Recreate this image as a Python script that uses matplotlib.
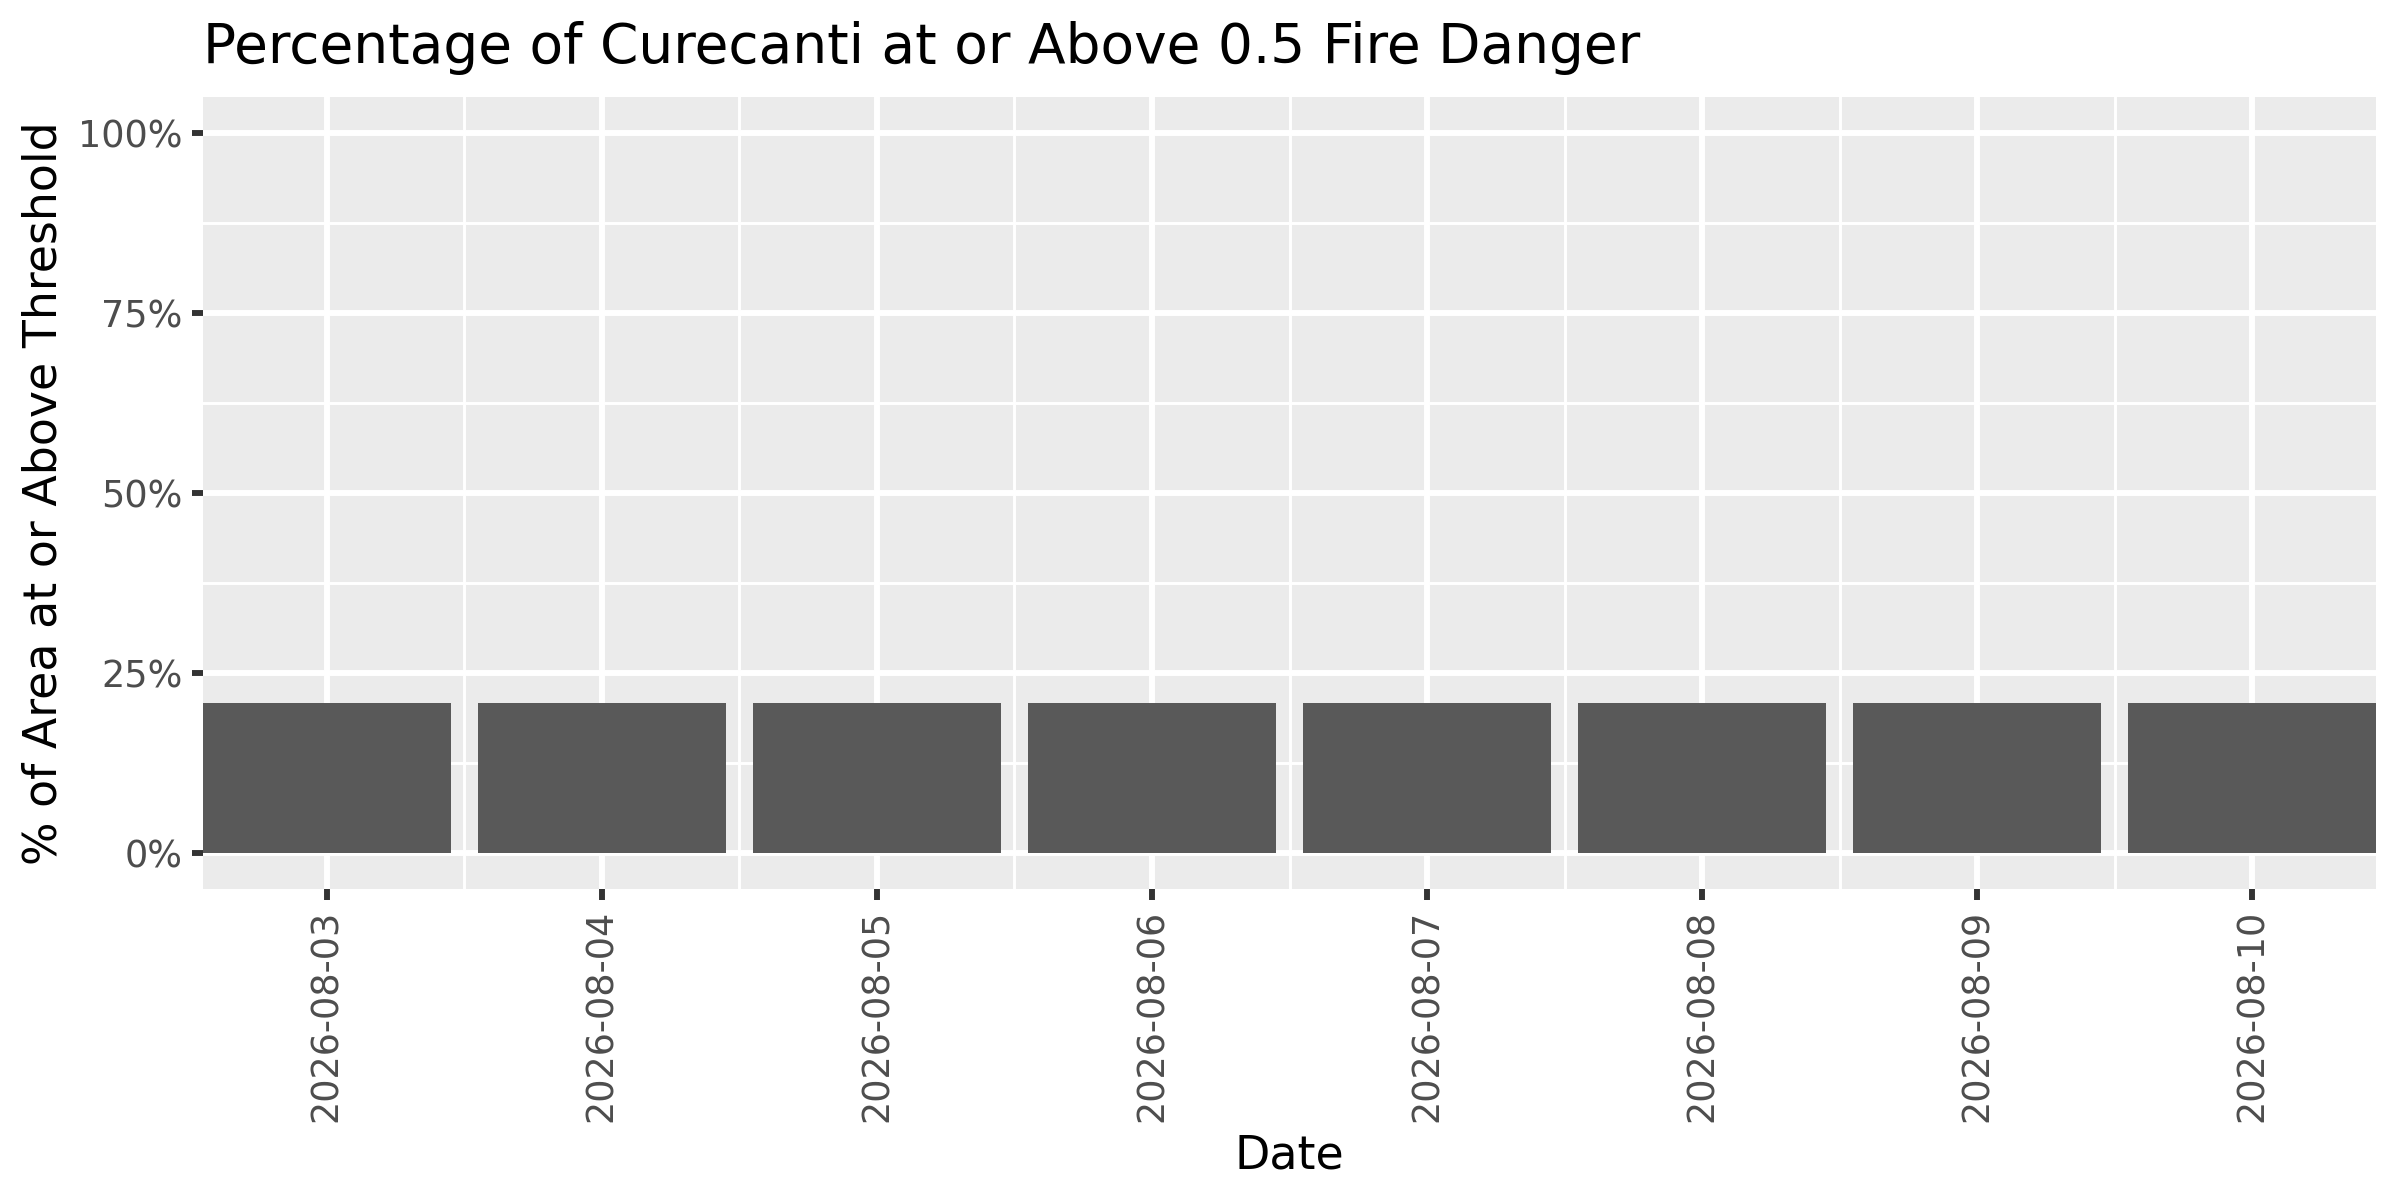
import numpy as np
import pandas as pd
import matplotlib
matplotlib.use("Agg")
import matplotlib.pyplot as plt
import matplotlib.dates as mdates
from matplotlib.ticker import FuncFormatter

# Data
dates = ["2026-08-03", "2026-08-04", "2026-08-05", "2026-08-06",
         "2026-08-07", "2026-08-08", "2026-08-09", "2026-08-10"]
pct_above = [20.9, 20.9, 20.9, 20.9, 20.9, 20.9, 20.9, 20.9]
y_breaks = [0, 25, 50, 75, 100]

x = pd.to_datetime(dates)
xn = mdates.date2num(x)

plt.rcParams['font.family'] = ['DejaVu Sans']

fig = plt.figure(figsize=(8, 4), dpi=300)
ax = fig.add_axes([0.0846, 0.2589, 0.990 - 0.0846, 0.9194 - 0.2589])
ax.set_facecolor('#EBEBEB')

ax.bar(xn, pct_above, width=0.9, color='#595959', zorder=3)

# scales
ax.set_xlim(xn[0] - 0.45, xn[-1] + 0.45)
ax.set_ylim(-5, 105)
ax.set_xticks(xn)
ax.set_xticklabels(dates, rotation=90, ha='center', va='top')
ax.set_xticks((xn[:-1] + xn[1:]) / 2, minor=True)
ax.set_yticks(y_breaks)
ax.set_yticks([(a + b) / 2 for a, b in zip(y_breaks[:-1], y_breaks[1:])], minor=True)
ax.yaxis.set_major_formatter(FuncFormatter(lambda v, p: f"{v:.0f}%"))

# ggplot-like grid
ax.grid(which='major', color='white', linewidth=1.42, zorder=1)
ax.grid(which='minor', color='white', linewidth=0.71, zorder=1)
ax.set_axisbelow(True)
for s in ax.spines.values():
    s.set_visible(False)

ax.tick_params(which='major', length=2.75, width=1.42, color='#333333',
               labelsize=8.8, labelcolor='#4D4D4D', pad=2.2)
ax.tick_params(which='minor', length=0)

ax.set_xlabel('Date', fontsize=11, color='black', labelpad=2.75)
ax.set_ylabel('% of Area at or Above Threshold', fontsize=11, color='black', labelpad=2.75)
fig.text(0.0846, 1 - 63 / 1200, 'Percentage of Curecanti at or Above 0.5 Fire Danger',
         fontsize=13.2, ha='left', va='baseline', color='black')

fig.savefig('out.png', dpi=300)
